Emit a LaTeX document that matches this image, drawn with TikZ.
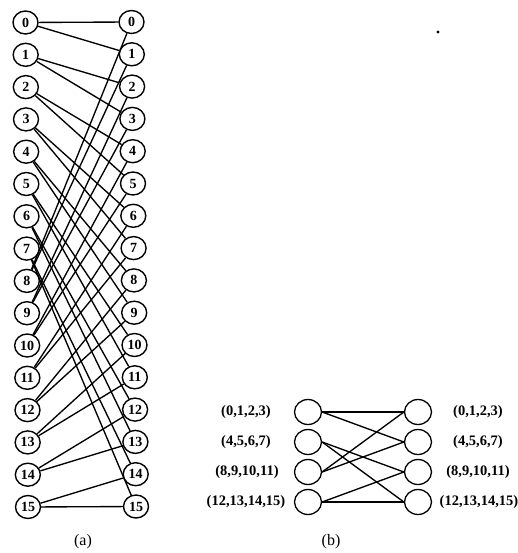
\documentclass[tikz,border=0pt]{standalone}
\usepackage{fontspec}
\setmainfont{Liberation Serif}
\usetikzlibrary{shapes.geometric}
\begin{document}
\begin{tikzpicture}[x=1pt,y=-1pt,
  nd/.style={ellipse,draw,line width=1.4pt,minimum width=25pt,minimum height=23pt,inner sep=0pt,font=\fontsize{14}{14}\selectfont\bfseries},
  bn/.style={ellipse,draw,line width=1.3pt,minimum width=27pt,minimum height=25pt,inner sep=0pt},
  lbl/.style={font=\fontsize{14.5}{14.5}\selectfont\bfseries},
  ed/.style={line width=1.35pt}]
\useasboundingbox (0,0) rectangle (518,553);
% (a)
\foreach \i in {0,...,15} {
  \node[nd] (L\i) at ({25.5+2.5*\i/15},{22.5+32.3*\i}) {\i};
  \node[nd] (R\i) at ({131.5+4.5*\i/15},{22+32.3*\i}) {\i};
}
\foreach \i in {0,...,15} {
  \pgfmathtruncatemacro\ea{mod(2*\i,16)}
  \pgfmathtruncatemacro\eb{mod(2*\i+1,16)}
  \draw[ed] (L\i) -- (R\ea);
  \draw[ed] (L\i) -- (R\eb);
}
\node[font=\fontsize{16}{16}\selectfont] (capa) at (83,542) {(a)};
% (b)
\foreach \i/\y in {0/412,1/442,2/472,3/502} {
  \node[bn] (BL\i) at (308,\y) {};
  \node[bn] (BR\i) at (418,\y) {};
}
\node[lbl] (la0) at (246,412) {(0,1,2,3)};
\node[lbl] (la1) at (246,442) {(4,5,6,7)};
\node[lbl] (la2) at (247,472) {(8,9,10,11)};
\node[lbl] (la3) at (246,502) {(12,13,14,15)};
\node[lbl] (ra0) at (478,412) {(0,1,2,3)};
\node[lbl] (ra1) at (478,442) {(4,5,6,7)};
\node[lbl] (ra2) at (478,472) {(8,9,10,11)};
\node[lbl] (ra3) at (479,502) {(12,13,14,15)};
\draw[ed] (BL0.east) -- (BR0.west);
\draw[ed] (BL0.east) -- (BR1.west);
\draw[ed] (BL1.east) -- (BR2.west);
\draw[ed] (BL1.east) -- (BR3.west);
\draw[ed] (BL2.east) -- (BR0.west);
\draw[ed] (BL2.east) -- (BR1.west);
\draw[ed] (BL3.east) -- (BR2.west);
\draw[ed] (BL3.east) -- (BR3.west);
\node[font=\fontsize{16}{16}\selectfont] (capb) at (331,542) {(b)};
\fill (438,32) circle (1.6pt);
\end{tikzpicture}
\end{document}
